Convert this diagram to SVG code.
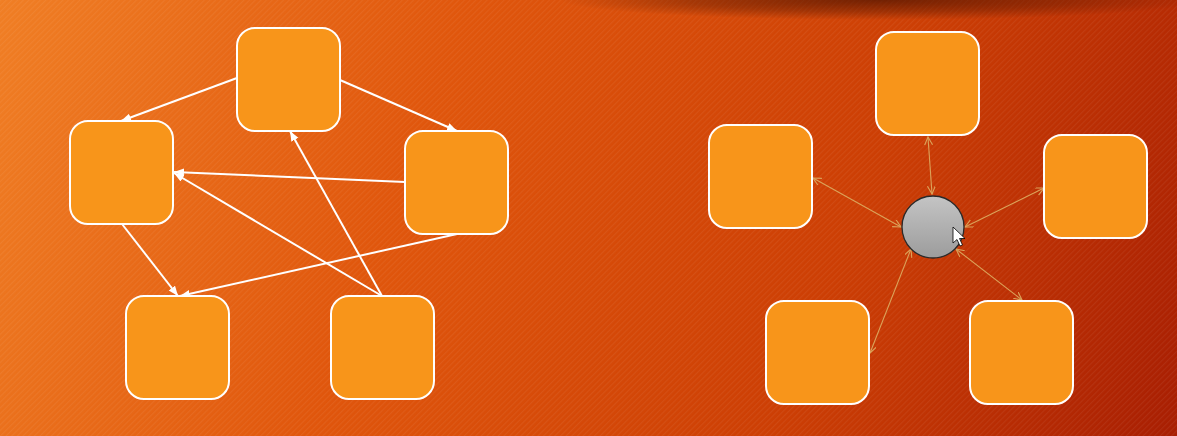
<svg xmlns="http://www.w3.org/2000/svg" width="1177" height="436" viewBox="0 0 1177 436">
  <defs>
    <linearGradient id="bg" gradientUnits="userSpaceOnUse" x1="0" y1="0" x2="1177" y2="436">
      <stop offset="0" stop-color="#f07e24"/>
      <stop offset="0.35" stop-color="#e0560c"/>
      <stop offset="0.7" stop-color="#cc3e04"/>
      <stop offset="1" stop-color="#a81e02"/>
    </linearGradient>
    <pattern id="stripes" width="4" height="4" patternUnits="userSpaceOnUse" patternTransform="rotate(-45)">
      <rect x="0" y="0" width="4" height="1.2" fill="#ffffff" opacity="0.06"/>
    </pattern>
    <radialGradient id="shadow" cx="0.5" cy="0.5" r="0.5">
      <stop offset="0" stop-color="#4a1200" stop-opacity="0.7"/>
      <stop offset="0.6" stop-color="#4a1200" stop-opacity="0.35"/>
      <stop offset="1" stop-color="#4a1200" stop-opacity="0"/>
    </radialGradient>
    <linearGradient id="ball" x1="0" y1="0" x2="0" y2="1">
      <stop offset="0" stop-color="#c4c4c4"/>
      <stop offset="1" stop-color="#9c9c9c"/>
    </linearGradient>
    <marker id="wh" markerUnits="userSpaceOnUse" markerWidth="12" markerHeight="10" refX="10" refY="4" orient="auto">
      <path d="M0,0 L10,4 L0,8 z" fill="#ffffff"/>
    </marker>
    <marker id="tan" markerUnits="userSpaceOnUse" markerWidth="12" markerHeight="10" refX="8" refY="4" orient="auto-start-reverse">
      <path d="M0,0 L8,4 L0,8" fill="none" stroke="#dba35a" stroke-width="1.1"/>
    </marker>
  </defs>
  <style>
    .box { fill: #f8951a; stroke: #ffffff; stroke-width: 2; }
    .w { stroke: #ffffff; stroke-width: 2; fill: none; marker-end: url(#wh); }
    .t { stroke: #dba35a; stroke-width: 1.1; fill: none; marker-start: url(#tan); marker-end: url(#tan); }
  </style>

  <rect width="1177" height="436" fill="url(#bg)"/>
  <rect width="1177" height="436" fill="url(#stripes)"/>
  <ellipse cx="880" cy="0" rx="320" ry="20" fill="url(#shadow)"/>

  <g id="connectors">
    <line class="w" x1="237" y1="78" x2="121" y2="121"/>
    <line class="w" x1="340" y1="80" x2="457" y2="131"/>
    <line class="w" x1="405" y1="182" x2="174" y2="172"/>
    <line class="w" x1="382" y1="296" x2="174" y2="173"/>
    <line class="w" x1="382" y1="296" x2="290" y2="131"/>
    <line class="w" x1="122" y1="224" x2="178" y2="296"/>
    <line class="w" x1="457" y1="234" x2="180" y2="296"/>

    <line class="t" x1="928" y1="137" x2="932" y2="194"/>
    <line class="t" x1="813" y1="178" x2="901" y2="227"/>
    <line class="t" x1="1044" y1="188" x2="965" y2="227"/>
    <line class="t" x1="870" y1="353" x2="911" y2="249"/>
    <line class="t" x1="1022" y1="300" x2="956" y2="249"/>
  </g>

  <g id="a-top"><rect class="box" x="237" y="28" width="103" height="103" rx="18"/></g>
  <g id="a-left"><rect class="box" x="70" y="121" width="103" height="103" rx="18"/></g>
  <g id="a-right"><rect class="box" x="405" y="131" width="103" height="103" rx="18"/></g>
  <g id="a-bl"><rect class="box" x="126" y="296" width="103" height="103" rx="18"/></g>
  <g id="a-br"><rect class="box" x="331" y="296" width="103" height="103" rx="18"/></g>

  <g id="b-top"><rect class="box" x="876" y="32" width="103" height="103" rx="18"/></g>
  <g id="b-left"><rect class="box" x="709" y="125" width="103" height="103" rx="18"/></g>
  <g id="b-right"><rect class="box" x="1044" y="135" width="103" height="103" rx="18"/></g>
  <g id="b-bl"><rect class="box" x="766" y="301" width="103" height="103" rx="18"/></g>
  <g id="b-br"><rect class="box" x="970" y="301" width="103" height="103" rx="18"/></g>

  <g id="hub"><circle cx="933" cy="227" r="31" fill="url(#ball)" stroke="#2a2a2a" stroke-width="1.3"/></g>

  <g id="cursor">
    <path d="M953,227 L953,243 L957,239.5 L960,246 L962.5,245 L959.5,238.5 L965,238.5 z" fill="#ffffff" stroke="#000000" stroke-width="0.8" stroke-linejoin="round"/>
  </g>
</svg>
